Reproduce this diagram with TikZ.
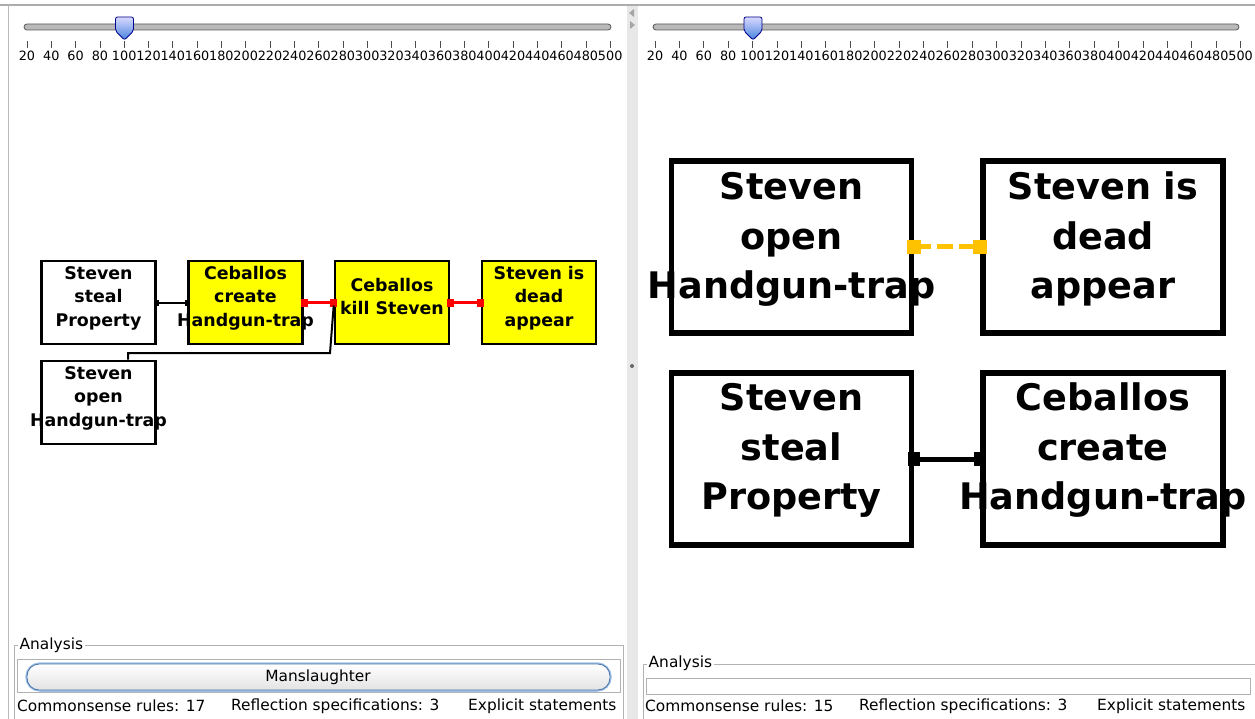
\documentclass[tikz,border=0pt]{standalone}
\usepackage{fontspec}
\setmainfont{DejaVu Sans}
\usetikzlibrary{arrows.meta}
\definecolor{firedyellow}{RGB}{255,255,0}
\definecolor{weakorange}{RGB}{255,194,0}
\definecolor{strongred}{RGB}{255,0,0}
\definecolor{panelgray}{RGB}{232,232,232}
\definecolor{framegray}{RGB}{178,178,178}
\definecolor{glowblue}{RGB}{95,150,215}
\definecolor{thumbblue}{RGB}{70,130,220}
\newcommand{\evlines}[2]{\raisebox{#1}[0pt][0pt]{\makebox[0pt]{\begin{tabular}{@{}c@{}}#2\end{tabular}}}}

\begin{document}
\begin{tikzpicture}
[
    x=1pt, y=-1pt,
    tsq/.tip={Square[length=4pt,width=6pt]},
    rsq/.tip={Square[length=7pt,width=8pt]},
    osq/.tip={Square[length=14pt,width=14pt]},
    bsq/.tip={Square[length=12pt,width=14pt]},
    small/.style={draw, line width=2.6pt, minimum width=114pt, minimum height=83pt, inner sep=0pt, font=\fontsize{17.4}{23.5}\selectfont\bfseries},
    large/.style={draw, line width=5.5pt, minimum width=240pt, minimum height=172pt, inner sep=0pt, font=\fontsize{36.6}{49.5}\selectfont\bfseries},
    fired/.style={fill=firedyellow},
    tie/.style={line width=2pt, tsq-tsq, shorten <=-2pt, shorten >=-2pt},
    plain/.style={line width=2pt},
    strong/.style={draw=strongred, line width=3.5pt, rsq-rsq, shorten <=-3pt, shorten >=-3pt},
    weak/.style={draw=weakorange, line width=5pt, osq-osq, dash pattern=on 16pt off 6pt, dash phase=4pt, shorten <=-7pt, shorten >=-7pt},
    tiebig/.style={line width=5pt, bsq-bsq, shorten <=-6pt, shorten >=-6pt},
    track/.style={draw=gray!70!black, fill=gray!55, line width=0.8pt, rounded corners=3pt},
    thumb/.style={draw=blue!55!black, line width=0.8pt, top color=blue!15, bottom color=thumbblue, rounded corners=2pt},
    ticklbl/.style={font=\fontsize{12.8}{14}\selectfont, inner sep=0pt},
    status/.style={font=\fontsize{15.4}{18}\selectfont, inner sep=0pt, anchor=west},
    caption/.style={font=\fontsize{15.4}{18}\selectfont, inner sep=1.5pt, anchor=west, fill=white},
]
\useasboundingbox (0,0) rectangle (1255,719);
\fill[white] (0,0) rectangle (1255,719);

\fill[panelgray] (627,5) rectangle (638,719);
\fill[gray!70] (634,9) -- (629,13) -- (634,17) -- cycle;
\fill[gray!70] (630,21) -- (635,25) -- (630,29) -- cycle;
\fill[gray!80!black] (632,366) circle (2pt);
\draw[gray!65, line width=2pt] (0,5) -- (1255,5);
\draw[gray!55, line width=1pt] (8,5) -- (8,719);

\foreach \xa/\xb/\xo/\dx/\t/\p in {24/611/27/24.3/124.5/l, 653/1239/655/24.4/753/r} {
  \path[track] (\xa,24) rectangle (\xb,30);
  \foreach \i in {0,...,24} {
    \pgfmathtruncatemacro\v{20+20*\i}
    \draw[gray!60!black, line width=0.7pt] ({\xo+\dx*\i},41) -- ++(0,7);
    \node[ticklbl] (\p\i) at ({\xo+\dx*\i},56) {\v};
  }
  \path[thumb] ({\t},40) -- ({\t-9},31) -- ({\t-9},17) -- ({\t+9},17) -- ({\t+9},31) -- cycle;
}

\node[small] (b1) at (98.5,302.5) {\evlines{0pt}{Steven\\steal\\Property}};
\node[small, fired] (b2) at (245.5,302.5) {\evlines{0pt}{Ceballos\\create\\Handgun-trap}};
\node[small, fired] (b3) at (392,302.5) {\evlines{0pt}{Ceballos\\kill Steven}};
\node[small, fired] (b4) at (539,302.5) {\evlines{0pt}{Steven is\\dead\\appear}};
\node[small] (b5) at (98.5,402.5) {\evlines{0pt}{Steven\\open\\Handgun-trap}};
\coordinate (kink) at (330,353);

\draw[tie] (b1.east) -- (b2.west);
\draw[strong] (b2.east) -- (b3.west);
\draw[strong] (b3.east) -- (b4.west);
\draw[plain] ([xshift=29.5pt]b5.north) |- (kink) -- ([yshift=-3pt]b3.west);

\node[large] (r1) at (791.5,247) {\evlines{1.5pt}{Steven\\open\\Handgun-trap}};
\node[large] (r2) at (1103,247) {\evlines{1.5pt}{Steven is\\dead\\appear}};
\node[large] (r3) at (791.5,459) {\evlines{2.5pt}{Steven\\steal\\Property}};
\node[large] (r4) at (1103,459) {\evlines{2.5pt}{Ceballos\\create\\Handgun-trap}};

\draw[weak] (r1.east) -- (r2.west);
\draw[tiebig] (r3.east) -- (r4.west);

\draw[framegray] (14,719) -- (14,645) -- (623,645) -- (623,719);
\node[caption] (la) at (18,645) {Analysis};
\draw[framegray] (17,659) rectangle (620,692);
\path[draw=glowblue!60, line width=3.5pt, rounded corners=13pt] (27,664) rectangle (610,690);
\path[draw=glowblue!80!black, line width=0.9pt, top color=white, bottom color=gray!22, rounded corners=12pt] (27,664) rectangle (610,690);
\node[font=\fontsize{15.4}{18}\selectfont, inner sep=0pt] (verdict) at (318,677) {Manslaughter};
\node[status] (lc) at (17,706) {Commonsense rules: 17};
\node[status] (lr) at (231,706) {Reflection specifications: 3};
\node[status] (le) at (468,706) {Explicit statements};

\draw[framegray] (643,719) -- (643,664) -- (1255,664);
\node[caption] (ra) at (647,663) {Analysis};
\draw[framegray] (646,678) rectangle (1250,694);
\node[status] (rc) at (645,706) {Commonsense rules: 15};
\node[status] (rr) at (859,706) {Reflection specifications: 3};
\node[status] (re) at (1097,706) {Explicit statements};
\end{tikzpicture}
\end{document}
